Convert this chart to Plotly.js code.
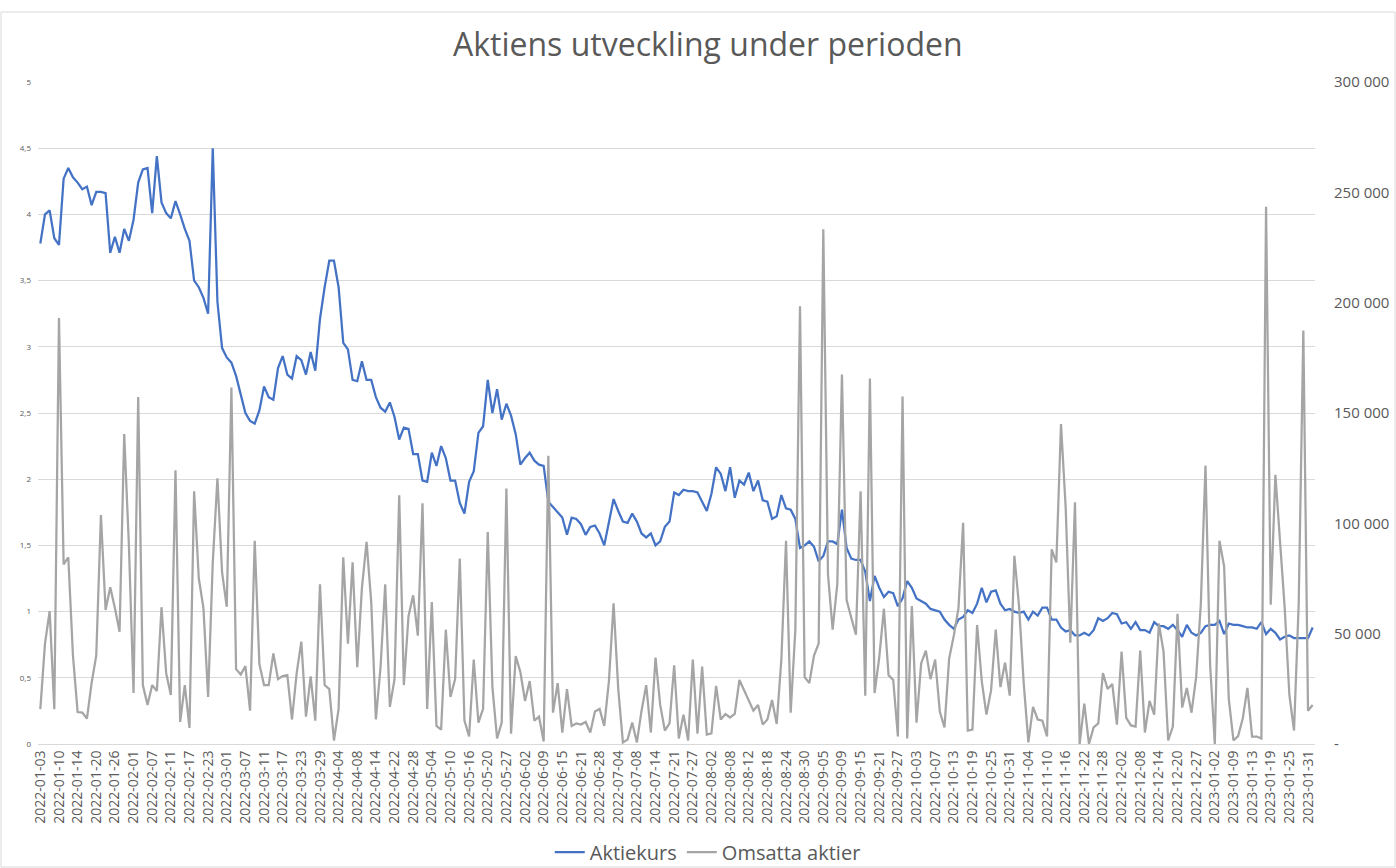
<!DOCTYPE html>
<html>
<head>
<meta charset="utf-8">
<script src="https://cdn.plot.ly/plotly-3.0.1.min.js"></script>
<style>
  html, body { margin: 0; padding: 0; background: #ffffff; }
  #chart { width: 1396px; height: 868px; }
</style>
</head>
<body>
<div id="chart"></div>
<script>
const dates = [
  "2022-01-03","2022-01-04","2022-01-05","2022-01-07","2022-01-10","2022-01-11","2022-01-12","2022-01-13","2022-01-14","2022-01-17",
  "2022-01-18","2022-01-19","2022-01-20","2022-01-21","2022-01-24","2022-01-25","2022-01-26","2022-01-27","2022-01-28","2022-01-31",
  "2022-02-01","2022-02-02","2022-02-03","2022-02-04","2022-02-07","2022-02-08","2022-02-09","2022-02-10","2022-02-11","2022-02-14",
  "2022-02-15","2022-02-16","2022-02-17","2022-02-18","2022-02-21","2022-02-22","2022-02-23","2022-02-24","2022-02-25","2022-02-28",
  "2022-03-01","2022-03-02","2022-03-03","2022-03-04","2022-03-07","2022-03-08","2022-03-09","2022-03-10","2022-03-11","2022-03-14",
  "2022-03-15","2022-03-16","2022-03-17","2022-03-18","2022-03-21","2022-03-22","2022-03-23","2022-03-24","2022-03-25","2022-03-28",
  "2022-03-29","2022-03-30","2022-03-31","2022-04-01","2022-04-04","2022-04-05","2022-04-06","2022-04-07","2022-04-08","2022-04-11",
  "2022-04-12","2022-04-13","2022-04-14","2022-04-19","2022-04-20","2022-04-21","2022-04-22","2022-04-25","2022-04-26","2022-04-27",
  "2022-04-28","2022-04-29","2022-05-02","2022-05-03","2022-05-04","2022-05-05","2022-05-06","2022-05-09","2022-05-10","2022-05-11",
  "2022-05-12","2022-05-13","2022-05-16","2022-05-17","2022-05-18","2022-05-19","2022-05-20","2022-05-23","2022-05-24","2022-05-25",
  "2022-05-27","2022-05-30","2022-05-31","2022-06-01","2022-06-02","2022-06-03","2022-06-07","2022-06-08","2022-06-09","2022-06-10",
  "2022-06-13","2022-06-14","2022-06-15","2022-06-16","2022-06-17","2022-06-20","2022-06-21","2022-06-22","2022-06-23","2022-06-27",
  "2022-06-28","2022-06-29","2022-06-30","2022-07-01","2022-07-04","2022-07-05","2022-07-06","2022-07-07","2022-07-08","2022-07-11",
  "2022-07-12","2022-07-13","2022-07-14","2022-07-18","2022-07-19","2022-07-20","2022-07-21","2022-07-22","2022-07-25","2022-07-26",
  "2022-07-27","2022-07-28","2022-07-29","2022-08-01","2022-08-02","2022-08-03","2022-08-04","2022-08-05","2022-08-08","2022-08-09",
  "2022-08-10","2022-08-11","2022-08-12","2022-08-15","2022-08-16","2022-08-17","2022-08-18","2022-08-19","2022-08-22","2022-08-23",
  "2022-08-24","2022-08-25","2022-08-26","2022-08-29","2022-08-30","2022-08-31","2022-09-01","2022-09-02","2022-09-05","2022-09-06",
  "2022-09-07","2022-09-08","2022-09-09","2022-09-12","2022-09-13","2022-09-14","2022-09-15","2022-09-16","2022-09-19","2022-09-20",
  "2022-09-21","2022-09-22","2022-09-23","2022-09-26","2022-09-27","2022-09-28","2022-09-29","2022-09-30","2022-10-03","2022-10-04",
  "2022-10-05","2022-10-06","2022-10-07","2022-10-10","2022-10-11","2022-10-12","2022-10-13","2022-10-14","2022-10-17","2022-10-18",
  "2022-10-19","2022-10-20","2022-10-21","2022-10-24","2022-10-25","2022-10-26","2022-10-27","2022-10-28","2022-10-31","2022-11-01",
  "2022-11-02","2022-11-03","2022-11-04","2022-11-07","2022-11-08","2022-11-09","2022-11-10","2022-11-11","2022-11-14","2022-11-15",
  "2022-11-16","2022-11-17","2022-11-18","2022-11-21","2022-11-22","2022-11-23","2022-11-24","2022-11-25","2022-11-28","2022-11-29",
  "2022-11-30","2022-12-01","2022-12-02","2022-12-05","2022-12-06","2022-12-07","2022-12-08","2022-12-09","2022-12-12","2022-12-13",
  "2022-12-14","2022-12-15","2022-12-16","2022-12-19","2022-12-20","2022-12-21","2022-12-22","2022-12-23","2022-12-27","2022-12-28",
  "2022-12-29","2022-12-30","2023-01-02","2023-01-03","2023-01-04","2023-01-05","2023-01-09","2023-01-10","2023-01-11","2023-01-12",
  "2023-01-13","2023-01-16","2023-01-17","2023-01-18","2023-01-19","2023-01-20","2023-01-23","2023-01-24","2023-01-25","2023-01-26",
  "2023-01-27","2023-01-30","2023-01-31","2023-02-01"
];

const aktiekurs = [
  3.78, 4.00, 4.03, 3.82, 3.77, 4.27, 4.35, 4.28, 4.24, 4.19,
  4.21, 4.07, 4.17, 4.17, 4.16, 3.71, 3.83, 3.71, 3.89, 3.80,
  3.96, 4.24, 4.34, 4.35, 4.01, 4.44, 4.09, 4.01, 3.97, 4.10,
  4.00, 3.89, 3.80, 3.50, 3.45, 3.37, 3.25, 4.50, 3.34, 2.99,
  2.92, 2.88, 2.78, 2.65, 2.50, 2.44, 2.42, 2.52, 2.70, 2.62,
  2.60, 2.84, 2.93, 2.79, 2.76, 2.93, 2.90, 2.79, 2.96, 2.82,
  3.21, 3.45, 3.65, 3.65, 3.45, 3.03, 2.98, 2.75, 2.74, 2.89,
  2.75, 2.75, 2.62, 2.54, 2.51, 2.58, 2.47, 2.30, 2.39, 2.38,
  2.19, 2.19, 1.99, 1.98, 2.20, 2.10, 2.25, 2.16, 1.99, 1.99,
  1.82, 1.74, 1.98, 2.06, 2.35, 2.40, 2.75, 2.50, 2.68, 2.45,
  2.57, 2.48, 2.34, 2.11, 2.16, 2.20, 2.14, 2.11, 2.10, 1.83,
  1.79, 1.75, 1.71, 1.58, 1.71, 1.70, 1.66, 1.58, 1.64, 1.65,
  1.59, 1.50, 1.67, 1.85, 1.76, 1.68, 1.67, 1.74, 1.68, 1.59,
  1.56, 1.59, 1.50, 1.53, 1.64, 1.68, 1.90, 1.88, 1.92, 1.91,
  1.91, 1.90, 1.83, 1.76, 1.89, 2.09, 2.04, 1.91, 2.09, 1.86,
  1.99, 1.96, 2.05, 1.91, 1.99, 1.84, 1.83, 1.70, 1.72, 1.88,
  1.78, 1.77, 1.70, 1.48, 1.50, 1.53, 1.49, 1.38, 1.42, 1.53,
  1.53, 1.51, 1.77, 1.48, 1.40, 1.39, 1.39, 1.30, 1.08, 1.27,
  1.18, 1.11, 1.15, 1.14, 1.04, 1.10, 1.23, 1.18, 1.10, 1.08,
  1.06, 1.02, 1.01, 1.00, 0.94, 0.90, 0.87, 0.94, 0.96, 1.01,
  0.99, 1.06, 1.18, 1.07, 1.15, 1.16, 1.06, 1.01, 1.02, 1.00,
  0.99, 1.00, 0.94, 1.00, 0.97, 1.03, 1.03, 0.94, 0.94, 0.88,
  0.85, 0.86, 0.82, 0.82, 0.84, 0.82, 0.86, 0.95, 0.93, 0.95,
  0.99, 0.98, 0.91, 0.92, 0.87, 0.92, 0.86, 0.86, 0.84, 0.92,
  0.89, 0.89, 0.87, 0.90, 0.86, 0.81, 0.90, 0.84, 0.82, 0.84,
  0.89, 0.90, 0.90, 0.93, 0.83, 0.91, 0.90, 0.90, 0.89, 0.88,
  0.88, 0.87, 0.92, 0.83, 0.87, 0.84, 0.79, 0.81, 0.82, 0.80,
  0.80, 0.80, 0.80, 0.88
];

const omsattaAktier = [
  15800, 45500, 60200, 15800, 193000, 81400, 84600, 40100, 14500, 14200,
  11500, 27600, 40100, 103800, 60700, 71000, 61600, 50900, 140500, 90300,
  23100, 157200, 26700, 17700, 26700, 24000, 62000, 32100, 22200, 124000,
  10000, 26700, 7300, 114500, 75100, 61600, 21300, 82300, 120400, 77800,
  62200, 161600, 33900, 31500, 35300, 15100, 92100, 36200, 26700, 26700,
  41000, 29400, 30800, 31200, 11100, 32100, 46400, 12400, 30600, 10600,
  72400, 26700, 24900, 1600, 15900, 84600, 45500, 82300, 34800, 70600,
  91600, 64300, 11100, 34800, 72400, 16800, 29400, 112700, 26700, 58000,
  67400, 49100, 109100, 15900, 64300, 8200, 6500, 51800, 21300, 29400,
  84000, 10600, 3400, 38300, 9700, 15900, 96100, 25800, 2500, 9700,
  115800, 4700, 39800, 32600, 19500, 28500, 10600, 12400, 1100, 130600,
  14200, 27600, 5200, 24900, 8200, 9300, 8800, 10000, 5200, 14700,
  15900, 8200, 28500, 63800, 24900, 700, 2000, 9700, 700, 15100,
  26700, 5200, 39200, 17700, 6100, 9300, 35700, 2500, 13300, 1600,
  38300, 4700, 35100, 4300, 4800, 26300, 11100, 13600, 12000, 13600,
  29000, 24400, 20400, 15100, 17700, 8800, 11100, 19900, 9100, 38300,
  92100, 14200, 51800, 198400, 30300, 27600, 40100, 45500, 233300, 76900,
  51800, 72400, 167400, 65200, 57200, 49500, 114500, 21900, 165600, 23100,
  39200, 61300, 31200, 29000, 3400, 157500, 2500, 62500, 9700, 36600,
  42300, 29400, 38300, 14700, 7500, 38700, 49100, 61600, 100200, 6100,
  6500, 53900, 28500, 13300, 24400, 51800, 25800, 36900, 21900, 85300,
  62500, 27600, 700, 16800, 11100, 10600, 3400, 88200, 82300, 145000,
  107300, 45900, 109500, 0, 18300, 0, 7500, 9300, 32100, 24900,
  27200, 8800, 41900, 11800, 8400, 7900, 42300, 5200, 19500, 13300,
  54600, 41900, 1600, 7900, 59000, 16500, 25400, 14200, 30300, 63400,
  126200, 35700, 0, 92100, 80500, 20400, 1600, 3600, 11500, 25400,
  3400, 3400, 2500, 243500, 63100, 122000, 91700, 61600, 22200, 6100,
  63400, 187400, 15100, 17700
];

const leftTickVals = [0, 0.5, 1, 1.5, 2, 2.5, 3, 3.5, 4, 4.5, 5];
const leftTickText = ["0", "0,5", "1", "1,5", "2", "2,5", "3", "3,5", "4", "4,5", "5"];
const rightTickVals = [0, 50000, 100000, 150000, 200000, 250000, 300000];
const rightTickText = ["-", "50 000", "100 000", "150 000", "200 000", "250 000", "300 000"];

const xTickVals = dates.filter((d, i) => i % 4 === 0);

const FONT = "Open Sans, sans-serif";
const TXT = "#595959";

const traces = [
  {
    x: dates, y: aktiekurs, name: "Aktiekurs", type: "scatter", mode: "lines",
    line: { color: "#4472C4", width: 2.25 }, yaxis: "y"
  },
  {
    x: dates, y: omsattaAktier, name: "Omsatta aktier", type: "scatter", mode: "lines",
    line: { color: "#A5A5A5", width: 2.25 }, yaxis: "y2"
  }
];

const layout = {
  width: 1396, height: 868,
  paper_bgcolor: "#ffffff", plot_bgcolor: "#ffffff",
  margin: { l: 38, r: 81, t: 82, b: 124, pad: 0 },
  font: { family: FONT, color: TXT },
  title: {
    text: "Aktiens utveckling under perioden",
    font: { family: FONT, size: 32, color: TXT },
    x: 0.507, xref: "container", xanchor: "center",
    y: 0.948, yref: "container", yanchor: "middle"
  },
  xaxis: {
    type: "category", range: [-0.5, dates.length - 0.5],
    tickmode: "array", tickvals: xTickVals, ticktext: xTickVals,
    tickangle: -90, tickfont: { family: FONT, size: 14, color: TXT },
    showgrid: false, showline: true, linecolor: "#D9D9D9", linewidth: 1,
    ticks: "", zeroline: false, fixedrange: true
  },
  yaxis: {
    range: [0, 5], tickmode: "array", tickvals: leftTickVals, ticktext: leftTickText,
    tickfont: { family: FONT, size: 8, color: TXT },
    showgrid: true, gridcolor: "#D9D9D9", gridwidth: 1,
    zeroline: false, showline: false, ticks: "", ticklabelstandoff: 6
  },
  yaxis2: {
    overlaying: "y", side: "right", range: [0, 300000],
    tickmode: "array", tickvals: rightTickVals, ticktext: rightTickText,
    tickfont: { family: FONT, size: 15, color: TXT },
    showgrid: false, zeroline: false, showline: false, ticks: "", ticklabelstandoff: 18
  },
  legend: {
    orientation: "h", x: 0.507, xref: "container", xanchor: "center",
    y: (868 - 852) / 868, yref: "container", yanchor: "middle",
    font: { family: FONT, size: 20, color: TXT },
    itemwidth: 30, bgcolor: "rgba(0,0,0,0)"
  },
  shapes: [
    {
      type: "rect", xref: "paper", yref: "paper", layer: "below",
      x0: (1 - 38) / 1277, x1: (1395 - 38) / 1277,
      y0: (744 - 867) / 662, y1: (744 - 12) / 662,
      line: { color: "#D9D9D9", width: 1 }, fillcolor: "rgba(0,0,0,0)"
    }
  ],
  showlegend: true,
  hovermode: false
};

Plotly.newPlot("chart", traces, layout, { displayModeBar: false, staticPlot: true });
</script>
</body>
</html>
